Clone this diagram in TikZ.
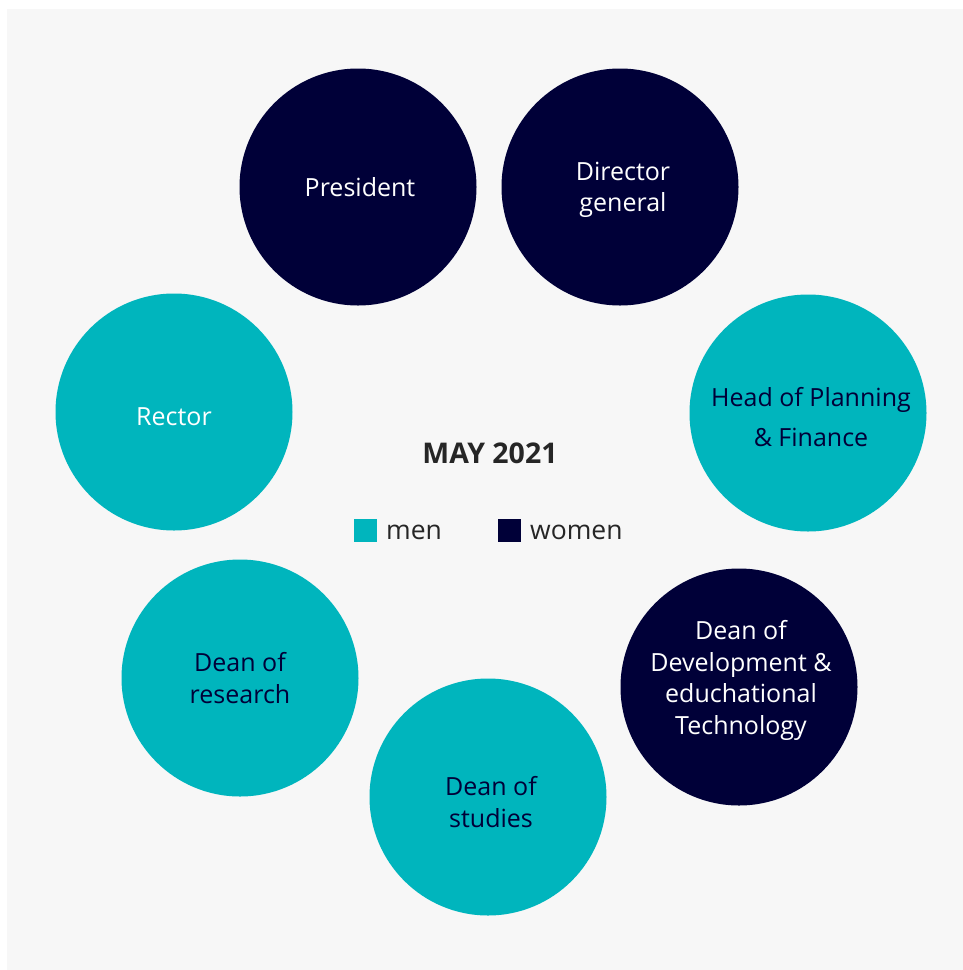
\documentclass[tikz,border=0pt]{standalone}
\usepackage{fontspec}
\setmainfont{Open Sans}
\definecolor{teal1}{HTML}{00B5BD}
\definecolor{navy1}{HTML}{000038}
\definecolor{bg1}{HTML}{F7F7F7}
\definecolor{txt1}{HTML}{262626}
\begin{document}
\begin{tikzpicture}[x=1pt,y=-1pt,
  bubble/.style={circle,minimum size=237pt,inner sep=0pt},
  menc/.style={bubble,fill=teal1},
  womenc/.style={bubble,fill=navy1},
  lbl/.style={align=center,inner sep=0pt,font=\fontsize{25}{31.5}\selectfont},
  key/.style={minimum size=23pt,inner sep=0pt},
  keytext/.style={anchor=west,text=txt1,inner sep=0pt,font=\fontsize{26.5}{30}\selectfont}]
\useasboundingbox (0,0) rectangle (963,970);
\fill[bg1] (7,9) rectangle (963,970);
\node[womenc] (pres) at (358,187) {};
\node[womenc] (dir) at (620,187) {};
\node[menc] (hpf) at (808,413) {};
\node[womenc] (ddt) at (739,687) {};
\node[menc] (dst) at (488,797) {};
\node[menc] (drs) at (240,678) {};
\node[menc] (rec) at (174,412) {};
\node[lbl,text=white] (tpres) at (360,187) {President};
\node[lbl,text=white] (tdir) at (623,190) {Director\\general};
\node[lbl,text=navy1,font=\fontsize{25}{40}\selectfont] (thpf) at (811,417) {Head of Planning\\\& Finance};
\node[lbl,text=white] (tddt) at (741,680.5) {Dean of\\Development \&\\educhational\\Technology};
\node[lbl,text=navy1] (tdst) at (491,802) {Dean of\\studies};
\node[lbl,text=navy1] (tdrs) at (240,678) {Dean of\\research};
\node[lbl,text=white] (trec) at (174,417) {Rector};
\node[text=txt1,font=\fontsize{28.5}{32}\selectfont\bfseries] (title) at (490,453) {MAY 2021};
\node[key,fill=teal1] (kmen) at (365.5,530.5) {};
\node[keytext] (tmen) at (386,532) {men};
\node[key,fill=navy1] (kwomen) at (509.5,530.5) {};
\node[keytext] (twomen) at (530,532) {women};
\end{tikzpicture}
\end{document}
